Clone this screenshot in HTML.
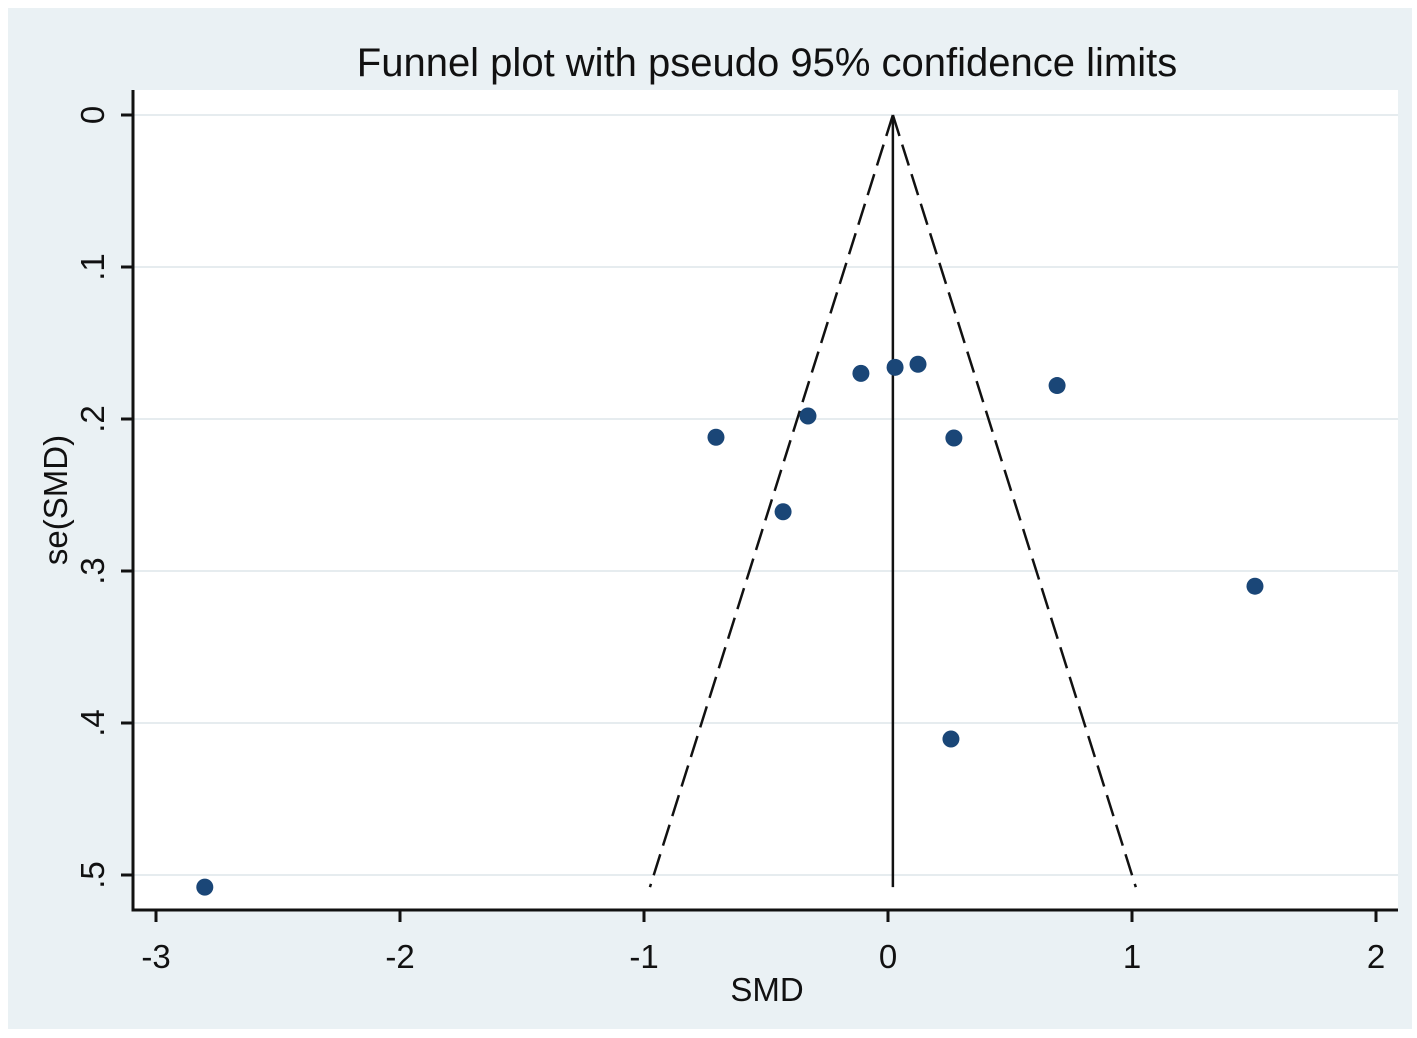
<!DOCTYPE html>
<html><head><meta charset="utf-8"><style>
body{margin:0;background:#fff}
svg{display:block;font-family:"Liberation Sans",Arial,sans-serif}
</style></head><body>
<svg width="1417" height="1038">
<rect x="8" y="8" width="1404" height="1021" fill="#eaf1f4"/>
<rect x="133" y="90" width="1265" height="820" fill="#fff"/>
<text x="767" y="76" font-size="40" text-anchor="middle" fill="#111">Funnel plot with pseudo 95% confidence limits</text>
<g id="grid"></g><g id="funnel"></g><g id="pts"></g><g id="axes"></g>
<text x="767" y="1001" font-size="33" text-anchor="middle" fill="#111">SMD</text>
<text transform="translate(67,500) rotate(-90)" font-size="33" text-anchor="middle" fill="#111">se(SMD)</text>
</svg>
<script>
const xTicks=[-3,-2,-1,0,1,2];
const xTickLabels=["-3","-2","-1","0","1","2"];
const yTicks=[0,0.1,0.2,0.3,0.4,0.5];
const yTickLabels=["0",".1",".2",".3",".4",".5"];
const smd=[-2.80,-0.705,-0.328,-0.111,0.029,0.123,0.693,0.270,-0.430,1.504,0.258];
const se=[0.508,0.212,0.198,0.170,0.166,0.164,0.178,0.2125,0.261,0.310,0.4105];
const pooled=[0.02];
const maxSe=[0.508];
const X=v=>888+v*244, Y=v=>115+v*1520;
const NS="http://www.w3.org/2000/svg";
function mk(tag,attrs,parent,txt){const e=document.createElementNS(NS,tag);for(const k in attrs)e.setAttribute(k,attrs[k]);if(txt!==undefined)e.textContent=txt;document.getElementById(parent).appendChild(e);return e;}
yTicks.forEach((t,i)=>{
  const g=mk('line',{x1:133,x2:1398,y1:Y(t),y2:Y(t),stroke:'#e6ecef','stroke-width':2},'grid');
  
  
  const tk=mk('line',{x1:121,x2:133,y1:Y(t),y2:Y(t),stroke:'#111','stroke-width':3},'axes');
  
  
  const lb=mk('text',{transform:`translate(104,${Y(t)}) rotate(-90)`,'font-size':33,'text-anchor':'middle',fill:'#111'},'axes',yTickLabels[i]);
  
  
});
xTicks.forEach((t,i)=>{
  const tk=mk('line',{x1:X(t),x2:X(t),y1:910,y2:922,stroke:'#111','stroke-width':3},'axes');
  
  
  const lb=mk('text',{x:X(t),y:968,'font-size':33,'text-anchor':'middle',fill:'#111'},'axes',xTickLabels[i]);
  
  
});
const ax=mk('path',{d:'M133,90 V910 H1398',fill:'none',stroke:'#111','stroke-width':3},'axes');


const p=pooled[0],m=maxSe[0];
const vl=mk('line',{x1:X(p),x2:X(p),y1:Y(0),y2:Y(m),stroke:'#111','stroke-width':2.5},'funnel');


[-1,1].forEach(s=>{
  const l=mk('line',{x1:X(p),y1:Y(0),x2:X(p+s*1.96*m),y2:Y(m),stroke:'#111','stroke-width':2.5,'stroke-dasharray':'22 9'},'funnel');
  
  
});
smd.forEach((v,i)=>{
  const c=mk('circle',{cx:X(v),cy:Y(se[i]),r:8.5,fill:'#1a4677'},'pts');
  
  
});
</script>
</body></html>
